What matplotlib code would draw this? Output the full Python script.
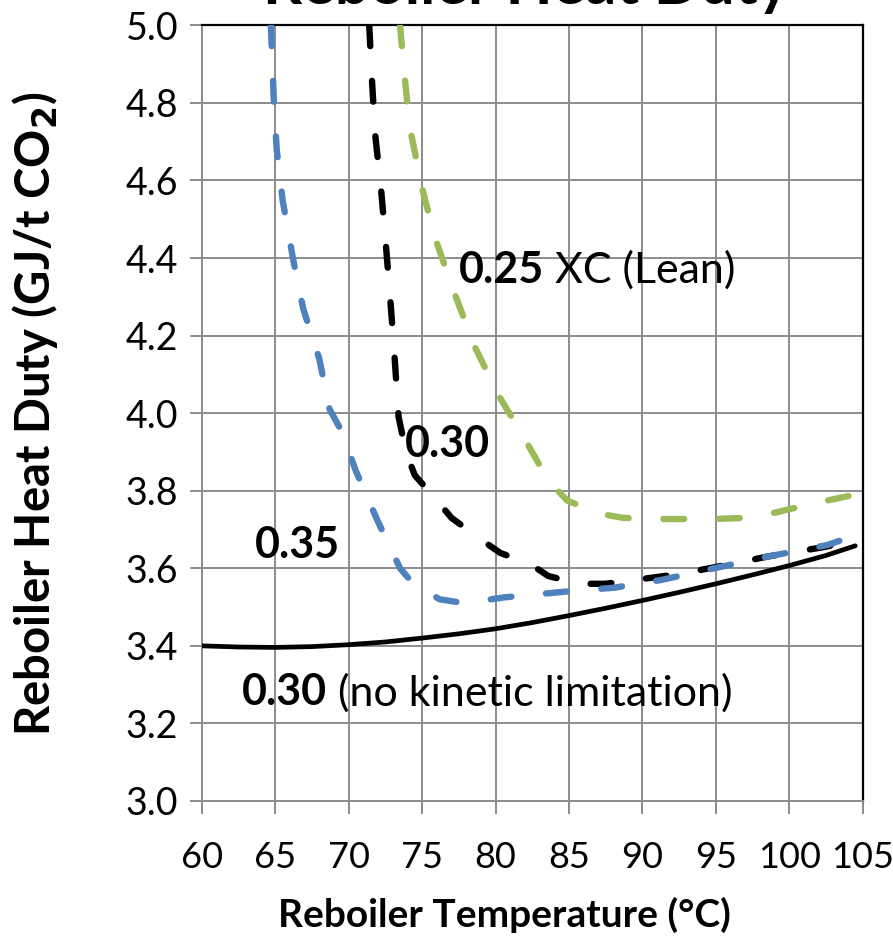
import matplotlib.pyplot as plt

plt.rcParams['font.family'] = ['Lato', 'DejaVu Sans']
plt.rcParams['lines.scale_dashes'] = False

# 0.35 loading (blue dashed)
t_035 = [64.7, 64.9, 65.1, 65.5, 66.2, 66.9, 68.0, 68.7, 69.5, 70.5, 72.0, 73.5, 74.4,
         76.2, 77.9, 80.6, 84.8, 88.1, 91.3, 94.9, 98.5, 102.6, 104.5]
q_035 = [5.00, 4.81, 4.68, 4.55, 4.40, 4.27, 4.14, 4.01, 3.955, 3.85, 3.72, 3.60, 3.56,
         3.52, 3.51, 3.525, 3.54, 3.55, 3.57, 3.60, 3.63, 3.66, 3.685]

# 0.30 loading (black dashed)
t_030 = [71.4, 71.6, 71.8, 72.2, 72.5, 72.8, 73.1, 73.4, 73.9, 74.5, 75.9, 77.0, 78.8,
         80.3, 82.4, 83.6, 85.7, 87.5, 89.5, 92.5, 95.5, 98.5, 102.4, 103.6]
q_030 = [5.00, 4.85, 4.72, 4.58, 4.45, 4.31, 4.16, 3.99, 3.90, 3.84, 3.78, 3.73, 3.68,
         3.64, 3.61, 3.58, 3.56, 3.56, 3.57, 3.585, 3.607, 3.63, 3.655, 3.665]

# 0.25 loading (green dashed)
t_025 = [73.5, 73.8, 74.2, 75.0, 75.9, 77.2, 78.6, 80.3, 81.8, 83.6, 84.9, 87.2, 88.7,
         91.3, 94.9, 97.0, 99.1, 101.5, 104.5]
q_025 = [5.00, 4.87, 4.73, 4.58, 4.45, 4.31, 4.17, 4.04, 3.946, 3.826, 3.774, 3.74, 3.73,
         3.727, 3.727, 3.73, 3.744, 3.766, 3.79]

# 0.30 without kinetic limitation (black solid)
t_eq = [60, 62.5, 65, 67.5, 70, 72.5, 75, 77.5, 80, 82.5, 85, 87.5, 90, 92.5, 95, 97.5,
        100, 102.5, 104.5]
q_eq = [3.400, 3.397, 3.396, 3.398, 3.403, 3.410, 3.420, 3.431, 3.444, 3.460, 3.478,
        3.497, 3.517, 3.538, 3.560, 3.583, 3.607, 3.633, 3.658]

xticks = [60, 65, 70, 75, 80, 85, 90, 95, 100, 105]
yticks = [3.0, 3.2, 3.4, 3.6, 3.8, 4.0, 4.2, 4.4, 4.6, 4.8, 5.0]

fig = plt.figure(figsize=(8.93, 9.39), dpi=100)
ax = fig.add_axes([0.226, 0.147, 0.740, 0.826])

dash = (15, 25)
ax.plot(t_eq, q_eq, color='black', lw=3.4, solid_capstyle='round', zorder=3)
ax.plot(t_025, q_025, color='#9BBB59', lw=4.6, dashes=dash, dash_capstyle='round', zorder=3)
ax.plot(t_030, q_030, color='black', lw=4.6, dashes=dash, dash_capstyle='round', zorder=4)
ax.plot(t_035, q_035, color='#4F81BD', lw=4.6, dashes=dash, dash_capstyle='round', zorder=5)

ax.set_xlim(60, 105)
ax.set_ylim(3.0, 5.0)
ax.set_xticks(xticks)
ax.set_yticks(yticks)
ax.set_yticklabels([f'{v:.1f}' for v in yticks])
ax.grid(True, color='#8c8c8c', lw=1.4)
ax.set_axisbelow(True)
ax.tick_params(axis='both', direction='out', length=9, width=1.4, color='#8c8c8c',
               labelsize=27, pad=8)
ax.tick_params(axis='x', pad=20, labelsize=26)
for s in ('left', 'bottom'):
    ax.spines[s].set_color('#8c8c8c')
    ax.spines[s].set_linewidth(1.4)
for s in ('top', 'right'):
    ax.spines[s].set_color('black')
    ax.spines[s].set_linewidth(1.6)

ax.set_xlabel('Reboiler Temperature (°C)', fontsize=28, fontweight='bold',
              ha='center', va='center')
ax.set_ylabel('Reboiler Heat Duty (GJ/t CO$_\\mathbf{2}$)', fontsize=34, fontweight='bold',
              ha='center', va='center')
ax.xaxis.set_label_coords(0.458, -0.147)
ax.yaxis.set_label_coords(-0.253, 0.5)

lab = dict(fontsize=31, va='center', zorder=6)


def label(x, y, bold, rest=''):
    t = ax.text(x, y, bold, fontweight='bold', **lab)
    if rest:
        ax.annotate(rest, xy=(1, 0), xycoords=t, va='bottom', fontsize=31, zorder=6)


label(77.5, 4.37, '0.25', ' XC (Lean)')
label(73.8, 3.92, '0.30')
label(63.6, 3.66, '0.35')
label(62.7, 3.28, '0.30', ' (no kinetic limitation)')

fig.text(0.59, 1 - 4 / 939, 'Reboiler Heat Duty', ha='center', va='baseline',
         fontsize=44, fontweight='bold')

fig.savefig('out.png', dpi=100)
